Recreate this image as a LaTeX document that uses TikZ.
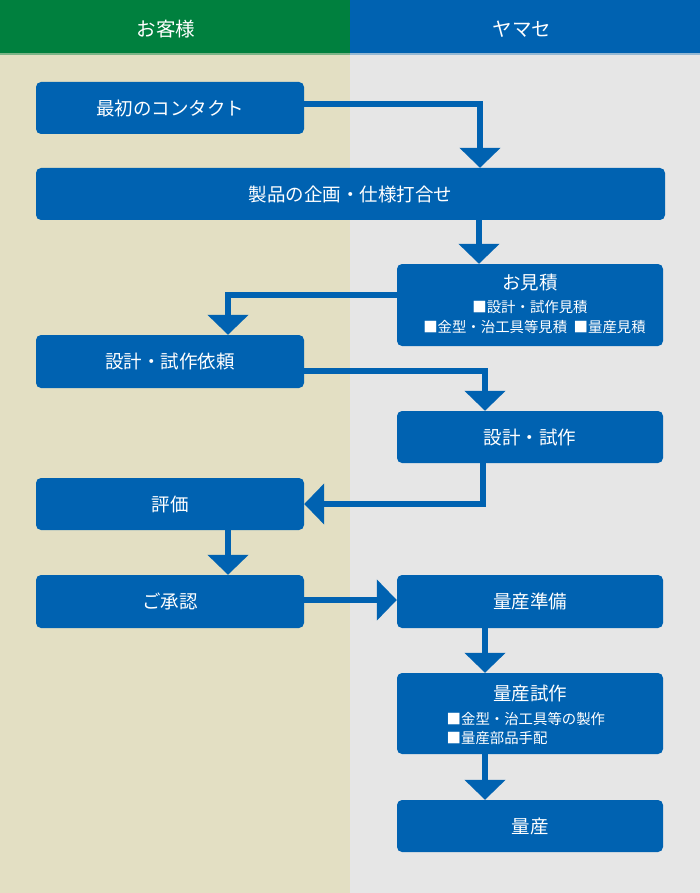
\documentclass[tikz,border=0pt]{standalone}
\usepackage{fontspec}
\newfontfamily\jp{Noto Sans CJK JP}
\usetikzlibrary{arrows.meta}
\definecolor{boxblue}{RGB}{0,98,177}
\definecolor{hgreen}{RGB}{0,128,62}
\definecolor{bgl}{RGB}{227,223,195}
\definecolor{bgr}{RGB}{230,230,230}
\tikzset{
  stepbox/.style={fill=boxblue, rounded corners=5pt, text=white, inner sep=0pt,
    font=\jp\fontsize{18.5}{22}\selectfont},
  rbox/.style={stepbox, minimum width=266pt},
  lbox/.style={stepbox, minimum width=268pt},
  boxtitle/.style={text=white, inner sep=0pt, font=\jp\fontsize{18.5}{22}\selectfont},
  boxsub/.style={text=white, inner sep=0pt, font=\jp\fontsize{14.4}{17}\selectfont},
  htext/.style={text=white, inner sep=0pt, font=\jp\fontsize{19.5}{23}\selectfont},
  arr/.style={draw=boxblue, line width=6pt, line join=miter,
    -{Triangle[width=40pt,length=20pt]}},
}
\begin{document}
\begin{tikzpicture}[x=1pt,y=-1pt]
\useasboundingbox (0,0) rectangle (700,893);
% backgrounds
\fill[bgl] (0,53) rectangle (350,893);
\fill[bgr] (350,53) rectangle (700,893);
\fill[hgreen] (0,0) rectangle (350,53);
\fill[boxblue] (350,0) rectangle (700,53);
\fill[hgreen!45!bgl] (0,53) rectangle (350,55.5);
\fill[boxblue!35!bgr] (350,53) rectangle (700,55.5);
\node[htext] (hcust) at (166,29) {お客様};
\node[htext] (hyam) at (522,29) {ヤマセ};
% boxes
\node[lbox, minimum height=52pt] (contact) at (170,108) {最初のコンタクト};
\node[stepbox, minimum width=629pt, minimum height=52pt] (plan) at (350.5,194) {製品の企画・仕様打合せ};
\node[rbox, minimum height=82pt] (est) at (530,305) {};
\node[boxtitle] (estt) at (530,283) {お見積};
\node[boxsub] (ests1) at (530,307.5) {■設計・試作見積};
\node[boxsub] (ests2) at (534.5,327.5) {■金型・治工具等見積\hspace{0.45em}■量産見積};
\node[lbox, minimum height=53pt] (request) at (170,361.5) {設計・試作依頼};
\node[rbox, minimum height=52pt] (design) at (530,437) {設計・試作};
\node[lbox, minimum height=52pt] (eval) at (170,504) {評価};
\node[lbox, minimum height=53pt] (approval) at (170,601.5) {ご承認};
\node[rbox, minimum height=53pt] (prep) at (530,601.5) {量産準備};
\node[rbox, minimum height=81pt] (trial) at (530,713.5) {};
\node[boxtitle] (trialt) at (530,693) {量産試作};
\node[boxsub, anchor=west] (trials1) at (446.5,718.5) {■金型・治工具等の製作};
\node[boxsub, anchor=west] (trials2) at (446.5,738) {■量産部品手配};
\node[rbox, minimum height=52pt] (mass) at (530,826) {量産};
% connectors
\draw[arr] ([yshift=4pt]contact.east) -| ([xshift=129.5pt]plan.north);
\coordinate (a2) at ([xshift=-51pt]est.north);
\draw[arr] (plan.south -| a2) -- (a2);
\draw[arr] ([yshift=10pt]est.west) -| ([xshift=58pt]request.north);
\draw[arr] ([yshift=-9.5pt]request.east) -| ([xshift=-45pt]design.north);
\draw[arr] ([xshift=-47pt]design.south) |- (eval.east);
\draw[arr] ([xshift=58pt]eval.south) -- ([xshift=58pt]approval.north);
\draw[arr] ([yshift=1.5pt]approval.east) -- ([yshift=1.5pt]prep.west);
\draw[arr] ([xshift=-45pt]prep.south) -- ([xshift=-45pt]trial.north);
\draw[arr] ([xshift=-45pt]trial.south) -- ([xshift=-45pt]mass.north);
\end{tikzpicture}
\end{document}
